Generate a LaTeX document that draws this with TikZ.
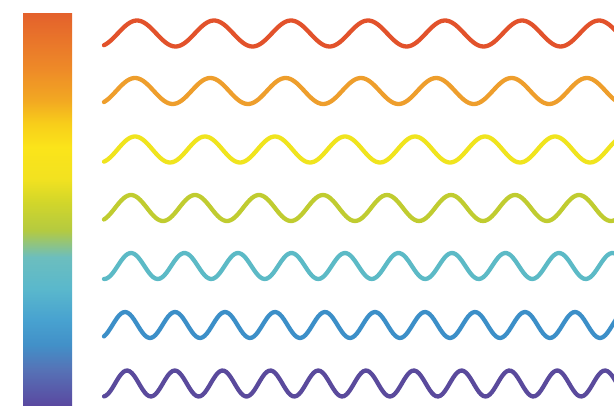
\documentclass[tikz,border=0pt]{standalone}
\usepackage{xcolor}
\usepackage{tikz}
\definecolor{cRed}{HTML}{E2522B}
\definecolor{cOrange}{HTML}{EE9E2C}
\definecolor{cYellow}{HTML}{F0E41E}
\definecolor{cLime}{HTML}{C0CC30}
\definecolor{cTeal}{HTML}{5CBAC6}
\definecolor{cBlue}{HTML}{3C8FC8}
\definecolor{cViolet}{HTML}{5A4A9C}
% stops of the bar, bottom to top
\definecolor{sA}{HTML}{5A48A0}
\definecolor{sB}{HTML}{5672B6}
\definecolor{sC}{HTML}{4290C8}
\definecolor{sD}{HTML}{48A2D0}
\definecolor{sE}{HTML}{5AB8CC}
\definecolor{sF}{HTML}{6CBEBE}
\definecolor{sG}{HTML}{B4CA40}
\definecolor{sH}{HTML}{D2D62A}
\definecolor{sI}{HTML}{F2E220}
\definecolor{sJ}{HTML}{FBE41A}
\definecolor{sK}{HTML}{F8CE1A}
\definecolor{sL}{HTML}{F2A822}
\definecolor{sM}{HTML}{EE8A28}
\definecolor{sN}{HTML}{E4622C}
\pgfdeclareverticalshading{spectrum}{100bp}{
  color(0bp)=(sA); color(25bp)=(sA); color(29.6bp)=(sB); color(32.8bp)=(sC);
  color(36bp)=(sD); color(40bp)=(sE); color(44bp)=(sF); color(47.4bp)=(sG);
  color(51bp)=(sH); color(54bp)=(sI); color(58bp)=(sJ); color(61bp)=(sK);
  color(64bp)=(sL); color(68bp)=(sM); color(75bp)=(sN); color(100bp)=(sN)}
\tikzset{
  wave/.style  = {line width=4.3pt, line cap=round, line join=round, draw=#1},
  bar/.style   = {shading=spectrum, draw=none},
}

\begin{document}
\begin{tikzpicture}[x=1pt, y=-1pt]
  \fill[white] (0,0) rectangle (614,406);
  \useasboundingbox (0,0) rectangle (614,406);
  % colour scale
  \path[bar] (23,14) rectangle (72,406);
  % waves: centre / period / first crest / colour
  \foreach \yc/\per/\xp/\col in {33.5/77/137/cRed, 91/75.3/135/cOrange,
      149.5/70/135/cYellow, 208/64/131/cLime, 266/53.5/131/cTeal,
      325/50/125/cBlue, 383.5/47.8/127/cViolet}
    \draw[wave=\col] plot[domain=104:616, samples=240, smooth]
      (\x, {\yc - 13*cos((\x-\xp)/\per*360)});
\end{tikzpicture}
\end{document}
